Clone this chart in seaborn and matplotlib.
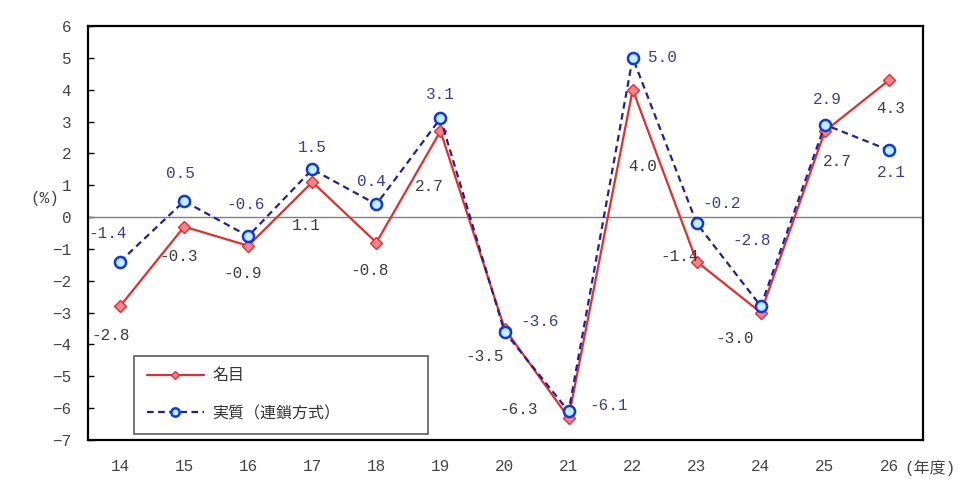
import matplotlib

matplotlib.use("Agg")
import matplotlib.pyplot as plt  # noqa: E402
import pandas as pd  # noqa: E402
import seaborn as sns  # noqa: E402

# 年度 (平成)
years = [14, 15, 16, 17, 18, 19, 20, 21, 22, 23, 24, 25, 26]
year_labels = [str(y) for y in years]
nominal = [-2.8, -0.3, -0.9, 1.1, -0.8, 2.7, -3.5, -6.3, 4.0, -1.4, -3.0, 2.7, 4.3]
real = [-1.4, 0.5, -0.6, 1.5, 0.4, 3.1, -3.6, -6.1, 5.0, -0.2, -2.8, 2.9, 2.1]
series_names = ["名目", "実質（連鎖方式）"]

# label offsets in pixels (dx, dy)
nominal_offsets = [(-9, -29), (-5, -30), (-6, -28), (-6, -43), (-7, -28), (-11, -55),
                   (-20, -28), (-50, 8), (10, -77), (-17, 5), (-26, -26), (12, -30), (2, -28)]
real_offsets = [(-12, 28), (-4, 28), (-3, 32), (0, 22), (-5, 23), (0, 24),
                (35, 10), (40, 6), (30, 0), (25, 20), (-9, 66), (2, 25), (2, -22)]

RED = "#e0302c"
NAVY = "#20209a"
BLUE_EDGE = "#1238e0"
TXT_DARK = "#3c3c3c"
TXT_BLUE = "#3a3aa0"

sns.set_theme(style="ticks")
plt.rcParams["font.family"] = ["Liberation Mono", "Noto Sans CJK JP"]

fig = plt.figure(figsize=(9.59, 4.79), dpi=100)
fig.patch.set_facecolor("white")
ax = fig.add_axes([88 / 959, 1 - 440 / 479, 835 / 959, 414 / 479])

df = pd.DataFrame({"year": years, "nominal": nominal, "real": real})

ax.axhline(0, color="#808080", linewidth=1.0, zorder=1)

sns.lineplot(data=df, x="year", y="nominal", ax=ax, color=RED, linewidth=1.6,
             marker="D", markersize=6, markerfacecolor="#ff7f8a",
             markeredgecolor=RED, markeredgewidth=1.0, label=series_names[0], zorder=3)
sns.lineplot(data=df, x="year", y="real", ax=ax, color=NAVY, linewidth=1.6,
             linestyle=(0, (3, 2)), marker="o", markersize=8,
             markerfacecolor="#bff0ff", markeredgecolor=BLUE_EDGE,
             markeredgewidth=1.8, label=series_names[1], zorder=4)

for x, v, (dx, dy) in zip(years, nominal, nominal_offsets):
    ax.annotate(f"{v:.1f}", (x, v), xytext=(dx, dy), textcoords="offset pixels",
                ha="center", va="center", fontsize=11.5, color=TXT_DARK, zorder=5)
for x, v, (dx, dy) in zip(years, real, real_offsets):
    ax.annotate(f"{v:.1f}", (x, v), xytext=(dx, dy), textcoords="offset pixels",
                ha="center", va="center", fontsize=11.5, color=TXT_BLUE, zorder=5)

ax.set_xlim(13.5, 26.53)
ax.set_ylim(-7, 6)
ax.set_xticks(years)
ax.set_xticklabels(year_labels)
ax.set_yticks(range(-7, 7))
ax.set_xlabel("")
ax.set_ylabel("")
ax.tick_params(axis="x", length=0, pad=14, labelsize=11.5, colors="#444444")
ax.tick_params(axis="y", direction="in", length=4, width=1, pad=12, labelsize=11.5,
               colors="#444444")
ax.tick_params(axis="y", color="black")

for side in ("top", "right", "left", "bottom"):
    ax.spines[side].set_visible(True)
    ax.spines[side].set_color("black")
    ax.spines[side].set_linewidth(1.6)

leg = ax.legend(loc="lower left", bbox_to_anchor=(0.055, 0.015, 0.352, 0.195),
                mode="expand", frameon=True, fancybox=False, fontsize=11.5,
                handlelength=3.6, handletextpad=0.5, labelspacing=1.4,
                borderpad=0.8, borderaxespad=0, markerscale=0.75)
leg.get_frame().set_edgecolor("#333333")
leg.get_frame().set_linewidth(1.2)
for t in leg.get_texts():
    t.set_color("#333333")

fig.text(45 / 959, 1 - 199 / 479, "(%)", ha="center", va="center",
         fontsize=11.5, color="#444444")
fig.text(930 / 959, 1 - 468 / 479, "(年度)", ha="center", va="center",
         fontsize=11.5, color="#444444")

fig.savefig("out.png", dpi=100, facecolor="white")
